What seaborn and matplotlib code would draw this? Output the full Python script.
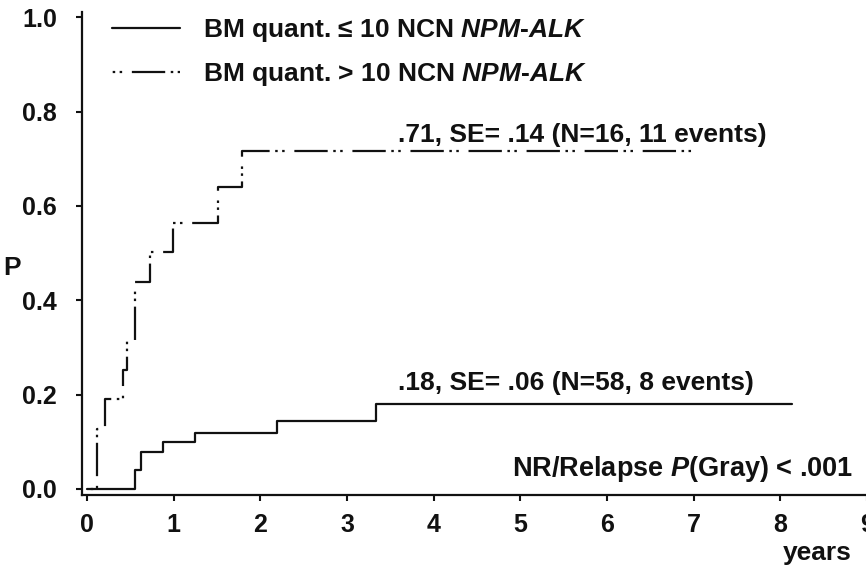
import matplotlib
matplotlib.use("Agg")
import matplotlib.pyplot as plt
import seaborn as sns
import pandas as pd

# ---- data ----
low_t = [0.0, 0.55, 0.62, 0.88, 1.25, 2.19, 3.34, 8.14]
low_p = [0.0, 0.04, 0.079, 0.099, 0.119, 0.144, 0.18, 0.18]

high_t = [0.03, 0.11, 0.21, 0.41, 0.46, 0.55, 0.73, 0.99, 1.51, 1.79, 6.98]
high_p = [0.0, 0.126, 0.19, 0.252, 0.314, 0.439, 0.503, 0.564, 0.640, 0.717, 0.717]

label_low = "BM quant. \u2264 10 NCN $\\mathit{NPM}$-$\\mathit{ALK}$"
label_high = "BM quant. > 10 NCN $\\mathit{NPM}$-$\\mathit{ALK}$"
text_high = ".71, SE= .14 (N=16, 11 events)"
text_low = ".18, SE= .06 (N=58, 8 events)"
text_p = "NR/Relapse $\\mathit{P}$(Gray) < .001"
x_ticks = [0, 1, 2, 3, 4, 5, 6, 7, 8, 9]
y_ticks = [0.0, 0.2, 0.4, 0.6, 0.8, 1.0]
y_tick_labels = ["0.0", "0.2", "0.4", "0.6", "0.8", "1.0"]

sns.set_theme(style="ticks")
plt.rcParams["font.family"] = ["Liberation Sans", "DejaVu Sans"]
plt.rcParams["font.weight"] = "bold"
plt.rcParams["mathtext.fontset"] = "custom"
plt.rcParams["mathtext.it"] = "Liberation Sans:italic:bold"
plt.rcParams["mathtext.rm"] = "Liberation Sans:bold"
plt.rcParams["mathtext.bf"] = "Liberation Sans:bold"
plt.rcParams["lines.scale_dashes"] = False

W, H = 866, 569
fig = plt.figure(figsize=(W / 100, H / 100), dpi=100)
ax = fig.add_axes([82 / W, 1 - 495 / H, (867 - 82) / W, (495 - 12) / H])

ink = "#111111"
df_low = pd.DataFrame({"t": low_t, "p": low_p})
df_high = pd.DataFrame({"t": high_t, "p": high_p})

sns.lineplot(data=df_low, x="t", y="p", ax=ax, drawstyle="steps-post",
             estimator=None, sort=False, color=ink, linewidth=1.6,
             label=label_low)
sns.lineplot(data=df_high, x="t", y="p", ax=ax, drawstyle="steps-post",
             estimator=None, sort=False, color=ink, linewidth=1.6,
             label=label_high)
dash = (27.5, (24, 4, 1.8, 3.2, 1.8, 7))
ax.lines[1].set_linestyle(dash)

ax.set_xlim(-0.058, 9.0)
ax.set_ylim(-0.013, 1.011)
ax.set_xticks(x_ticks)
ax.set_yticks(y_ticks)
ax.set_yticklabels(y_tick_labels)
ax.set_xlabel("")
ax.set_ylabel("")
sns.despine(ax=ax)
for s in ("left", "bottom"):
    ax.spines[s].set_linewidth(1.6)
    ax.spines[s].set_color(ink)
ax.tick_params(axis="both", direction="out", length=4, width=1.5,
               colors=ink, labelsize=18)
ax.tick_params(axis="y", pad=14)
ax.tick_params(axis="x", pad=9)
for lab in ax.get_xticklabels() + ax.get_yticklabels():
    lab.set_fontweight("bold")

leg = ax.legend(loc="upper left", bbox_to_anchor=(112 / W, 1 - 17 / H),
                bbox_transform=fig.transFigure, frameon=False, fontsize=19,
                handlelength=2.58, handletextpad=0.87, labelspacing=0.66,
                borderpad=0, borderaxespad=0)
for t in leg.get_texts():
    t.set_color(ink)

ax.text(3.59, 0.75, text_high, fontsize=19, fontweight="bold", color=ink,
        ha="left", va="center")
ax.text(3.59, 0.225, text_low, fontsize=19, fontweight="bold", color=ink,
        ha="left", va="center")
ax.text(8.84, 0.042, text_p, fontsize=19.5, fontweight="bold", color=ink,
        ha="right", va="center")

fig.text(12 / W, 1 - 268 / H, "P", fontsize=19, fontweight="bold",
         color=ink, ha="center", va="center")
fig.text(852 / W, 1 - 553 / H, "years", fontsize=19, fontweight="bold",
         color=ink, ha="right", va="center")

fig.savefig("out.png", dpi=100)
